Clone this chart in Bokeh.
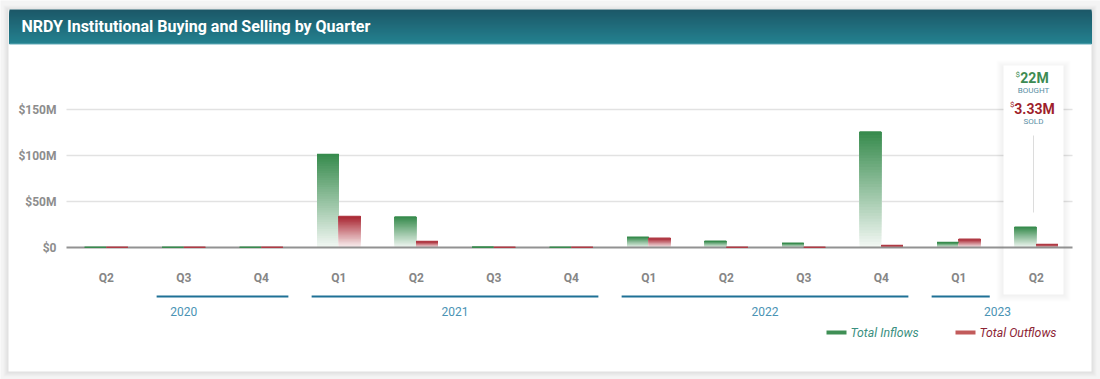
import numpy as np
from bokeh.plotting import figure
from bokeh.models import Range1d
from bokeh.core.properties import value
from bokeh.embed import file_html
from bokeh.resources import INLINE

# ---------------- data ----------------
title_text = "NRDY Institutional Buying and Selling by Quarter"
quarters = ["Q2", "Q3", "Q4", "Q1", "Q2", "Q3", "Q4", "Q1", "Q2", "Q3", "Q4", "Q1", "Q2"]
years = ["2020", "2021", "2022", "2023"]
year_start = [0, 3, 7, 11]
year_count = [3, 4, 4, 2]
inflows = [0.3, 0.3, 0.3, 101.1, 33.0, 0.4, 0.3, 11.2, 6.8, 4.7, 125.4, 5.4, 22.0]
outflows = [0.3, 0.3, 0.3, 33.7, 6.5, 0.3, 0.3, 10.1, 0.3, 0.3, 2.2, 9.0, 3.33]
y_ticks = [0, 50, 100, 150]
y_tick_labels = ["$0", "$50M", "$100M", "$150M"]
series_names = ["Total Inflows", "Total Outflows"]
hover_index = 12

# ---------------- layout helpers ----------------
W, H = 1100, 379
X0, SX = 67.0, 77.5    # px of category 0 edge, px per category
Y0, SY = 247.0, 0.92   # px of $0, px per $1M


def X(px):
    return (px - X0) / SX


def Y(py):
    return (Y0 - py) / SY


def mix(hexc, a, base="#ffffff"):
    c = [int(hexc[i:i + 2], 16) for i in (1, 3, 5)]
    b = [int(base[i:i + 2], 16) for i in (1, 3, 5)]
    m = [round(b[j] * (1 - a) + c[j] * a) for j in range(3)]
    return "#%02x%02x%02x" % tuple(m)


FONT = value("Roboto")
GREEN = "#378b4d"
RED = "#a8232f"

p = figure(width=W, height=H, x_range=Range1d(X(0), X(W)), y_range=Range1d(Y(H), Y(0)),
           x_axis_type=None, y_axis_type=None, toolbar_location=None,
           output_backend="svg", min_border=0, title=None)
p.outline_line_color = None
p.background_fill_color = "#f4f4f4"
p.border_fill_color = "#f4f4f4"


def pxquad(l, r, t, b, color, alpha=1.0):
    p.quad(left=[X(l)], right=[X(r)], top=[Y(t)], bottom=[Y(b)],
           fill_color=color, fill_alpha=alpha, line_color=None)


# card shadow + card
for d in range(1, 6):
    pxquad(8 - d, 1091 + d, 9 - d + 1, 371 + d, "#000000", 0.016)
pxquad(8, 1091, 9, 371, "#ffffff")

# header gradient (each band reaches down to the bottom, so no seams)
top_c, bot_c = "#1c5868", "#24818f"
for k in range(34):
    a = k / 33
    pxquad(9, 1091, 9 + k, 43, mix(top_c, 1 - a, bot_c))
pxquad(9, 1091, 43, 44, "#62a9b8")
p.text(x=[X(21)], y=[Y(26)], text=[title_text], text_font=FONT, text_font_size=value("16px"),
       text_font_style="bold", text_color="#ffffff", text_baseline="middle", text_align="left")

# gridlines + y labels
grid_t = [t for t in y_ticks if t != 0]
p.segment(x0=[X(66)] * len(grid_t), x1=[X(1072)] * len(grid_t), y0=grid_t, y1=grid_t,
          line_color="#e2e2e2", line_width=1.5)
p.text(x=[X(56)] * len(y_ticks), y=y_ticks, text=y_tick_labels, text_font=FONT,
       text_font_size=value("12px"), text_font_style="bold", text_color="#8d8d8d",
       text_align="right", text_baseline="middle")

# year segments and labels
seg_l, seg_r, ylab_x = [], [], []
for s, c in zip(year_start, year_count):
    ylab_x.append(s + c / 2)
    seg_l.append(max(s, 1) + 0.15)
    seg_r.append(s + c - 0.15 if s + c < len(quarters) else s + c - 1.1)
p.segment(x0=seg_l, x1=seg_r, y0=[Y(296)] * len(years), y1=[Y(296)] * len(years),
          line_color="#1f7196", line_width=2)
p.text(x=ylab_x, y=[Y(310.5)] * len(years), text=years, text_font=FONT,
       text_font_size=value("12px"), text_color="#4a93b4", text_align="center",
       text_baseline="middle")

# hover tooltip box (soft shadow)
bl, br, bt, bb = 1003, 1063, 65, 294
for d in range(1, 8):
    pxquad(bl - d, br + d, bt - d + 2, bb + d, "#000000", 0.007)
pxquad(bl, br, bt, bb, "#ffffff")

# bars with vertical gradient (solid top -> pale bottom)
BW = 0.28
N = 40


def gradient_bars(vals, lo, hi, color):
    L, R, B, T, C = [], [], [], [], []
    for i, v in enumerate(vals):
        c = i + 0.5
        for k in range(N):
            a = 0.06 + 0.94 * ((k + 0.5) / N)
            L.append(c + lo)
            R.append(c + hi)
            B.append(v * k / N)
            T.append(v)
            C.append(mix(color, a))
    p.quad(left=L, right=R, bottom=B, top=T, fill_color=C, line_color=None)


gradient_bars(inflows, -BW, 0.0, GREEN)
gradient_bars(outflows, 0.0, BW, RED)

# zero line
p.segment(x0=[X(66)], x1=[X(1072)], y0=[0], y1=[0], line_color="#7f7f7f", line_width=2,
          line_alpha=0.85)

# bar top edges
idx = np.arange(len(quarters)) + 0.5
p.segment(x0=idx - BW, x1=idx, y0=inflows, y1=inflows, line_color=GREEN, line_width=1.6)
p.segment(x0=idx, x1=idx + BW, y0=outflows, y1=outflows, line_color="#b03a44", line_width=1.6)

# quarter labels
p.text(x=list(idx), y=[Y(277.5)] * len(quarters), text=quarters, text_font=FONT,
       text_font_size=value("12px"), text_font_style="bold", text_color="#868686",
       text_align="center", text_baseline="middle")

# tooltip contents
tx = 1033
buy = inflows[hover_index]
sold = outflows[hover_index]
buy_s = f"{buy:g}M"
sold_s = f"{sold:g}M"
p.text(x=[X(tx + 1)], y=[Y(77.5)], text=[buy_s], text_font=FONT, text_font_size=value("14px"),
       text_font_style="bold", text_color="#3d8b52", text_align="center", text_baseline="middle")
p.text(x=[X(tx - 4.3 * len(buy_s) - 0.5)], y=[Y(73.5)], text=["$"], text_font=FONT,
       text_font_size=value("8px"), text_color="#3d8b52", text_align="right",
       text_baseline="middle")
p.text(x=[X(tx)], y=[Y(89.5)], text=["BOUGHT"], text_font=FONT, text_font_size=value("8px"),
       text_color="#5a8fa5", text_align="center", text_baseline="middle")
p.text(x=[X(tx + 1)], y=[Y(108)], text=[sold_s], text_font=FONT, text_font_size=value("14px"),
       text_font_style="bold", text_color="#9e1f2c", text_align="center", text_baseline="middle")
p.text(x=[X(tx - 3.7 * len(sold_s) - 0.5)], y=[Y(104)], text=["$"], text_font=FONT,
       text_font_size=value("8px"), text_color="#9e1f2c", text_align="right",
       text_baseline="middle")
p.text(x=[X(tx)], y=[Y(120.5)], text=["SOLD"], text_font=FONT, text_font_size=value("8px"),
       text_color="#5a8fa5", text_align="center", text_baseline="middle")
p.segment(x0=[X(tx)], x1=[X(tx)], y0=[Y(135)], y1=[Y(212)], line_color="#dcdcdc", line_width=1)

# legend
p.segment(x0=[X(826), X(955)], x1=[X(846), X(975)], y0=[Y(332)] * 2, y1=[Y(332)] * 2,
          line_color=["#3f8f55", "#c25b5b"], line_width=4)
p.text(x=[X(850), X(979)], y=[Y(332.5)] * 2, text=series_names, text_font=FONT,
       text_font_size=value("12.3px"), text_font_style="italic",
       text_color=["#3a8f80", "#8c2535"], text_align="left", text_baseline="middle")

open("out.html", "w").write(file_html(p, INLINE))
